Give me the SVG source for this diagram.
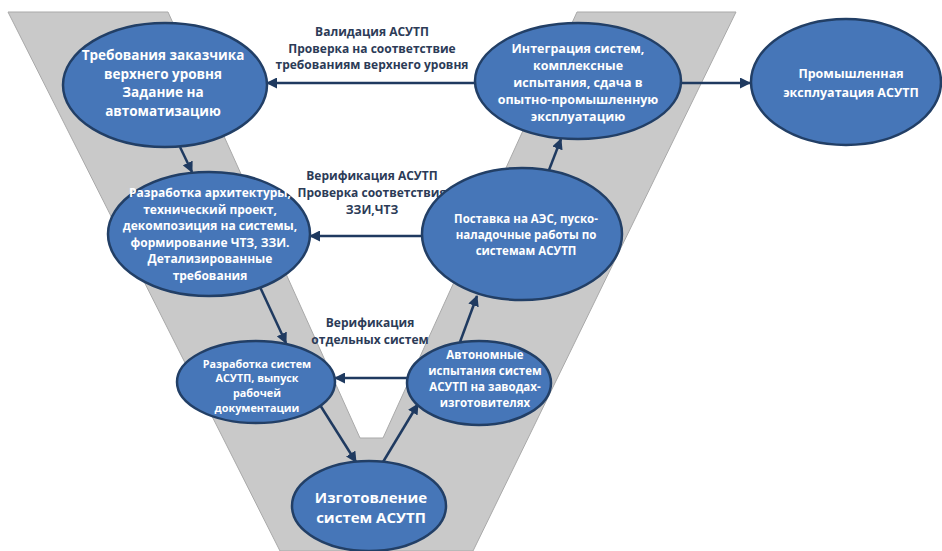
<svg xmlns="http://www.w3.org/2000/svg" width="942" height="551" viewBox="0 0 942 551">
<defs>
<style>
.node ellipse{fill:#4676B8;stroke:#223F66;stroke-width:2.5}
.nt{font-family:"Open Sans","Liberation Sans",sans-serif;font-weight:700;fill:#FFFFFF;text-anchor:middle}
.lb{font-family:"Open Sans","Liberation Sans",sans-serif;font-weight:700;fill:#2C3B57;text-anchor:middle;font-size:12px}
.conn line{stroke:#1F3A60;stroke-width:2.5;marker-end:url(#ah)}
</style>
<marker id="ah" markerUnits="userSpaceOnUse" markerWidth="11" markerHeight="11" refX="10" refY="5.5" orient="auto">
<path d="M0,0 L11,5.5 L0,11 Z" fill="#1F3A60"/>
</marker>
</defs>
<rect width="942" height="551" fill="#FFFFFF"/>
<polygon id="v-shape" points="8,12 168,12 360,438 383,438 577,12 736,12 473,551 280,551" fill="#C9C9C9" stroke="#A9A9A9" stroke-width="1"/>

<g id="labels">
<text class="lb" x="372" y="36">Валидация АСУТП</text>
<text class="lb" x="372" y="52.5">Проверка на соответствие</text>
<text class="lb" x="372" y="69">требованиям верхнего уровня</text>
<text class="lb" x="372" y="180">Верификация АСУТП</text>
<text class="lb" x="372" y="197">Проверка соответствия</text>
<text class="lb" x="372" y="214">ЗЗИ,ЧТЗ</text>
<text class="lb" x="370" y="327">Верификация</text>
<text class="lb" x="370" y="344">отдельных систем</text>
</g>

<g id="connectors" class="conn">
<line x1="475" y1="83" x2="267" y2="83"/>
<line x1="682" y1="83" x2="750" y2="83"/>
<line x1="180" y1="147" x2="192" y2="172"/>
<line x1="422" y1="236" x2="310" y2="236"/>
<line x1="260" y1="287" x2="286" y2="343"/>
<line x1="407" y1="378" x2="335" y2="378"/>
<line x1="320" y1="405" x2="356" y2="462"/>
<line x1="383" y1="462" x2="418" y2="404"/>
<line x1="460" y1="342" x2="477" y2="296"/>
<line x1="549" y1="170" x2="561" y2="139"/>
</g>

<g id="n1" class="node">
<ellipse cx="165" cy="85" rx="102" ry="62"/>
<text class="nt" font-size="13.5" x="163" y="60">Требования заказчика</text>
<text class="nt" font-size="13.5" x="163" y="78.5">верхнего уровня</text>
<text class="nt" font-size="13.5" x="163" y="97">Задание на</text>
<text class="nt" font-size="13.5" x="163" y="115.5">автоматизацию</text>
</g>

<g id="n2" class="node">
<ellipse cx="578" cy="81" rx="103" ry="58"/>
<text class="nt" font-size="12.5" x="578" y="53">Интеграция систем,</text>
<text class="nt" font-size="12.5" x="578" y="70">комплексные</text>
<text class="nt" font-size="12.5" x="578" y="87">испытания, сдача в</text>
<text class="nt" font-size="12.5" x="578" y="104">опытно-промышленную</text>
<text class="nt" font-size="12.5" x="578" y="121">эксплуатацию</text>
</g>

<g id="n3" class="node">
<ellipse cx="846" cy="82" rx="95" ry="63"/>
<text class="nt" font-size="12.5" x="851" y="78">Промышленная</text>
<text class="nt" font-size="12.5" x="851" y="97">эксплуатация АСУТП</text>
</g>

<g id="n4" class="node">
<ellipse cx="209" cy="234" rx="101" ry="62"/>
<text class="nt" font-size="12" x="210" y="197">Разработка архитектуры,</text>
<text class="nt" font-size="12" x="210" y="213.5">технический проект,</text>
<text class="nt" font-size="12" x="210" y="230">декомпозиция на системы,</text>
<text class="nt" font-size="12" x="210" y="246.5">формирование ЧТЗ, ЗЗИ.</text>
<text class="nt" font-size="12" x="210" y="263">Детализированные</text>
<text class="nt" font-size="12" x="210" y="279.5">требования</text>
</g>

<g id="n5" class="node">
<ellipse cx="522" cy="234" rx="100" ry="66"/>
<text class="nt" font-size="11.5" x="526" y="223">Поставка на АЭС, пуско-</text>
<text class="nt" font-size="11.5" x="526" y="238.8">наладочные работы по</text>
<text class="nt" font-size="11.5" x="526" y="254.6">системам АСУТП</text>
</g>

<g id="n6" class="node">
<ellipse cx="256" cy="382" rx="79" ry="41"/>
<text class="nt" font-size="10.8" x="257" y="367.5">Разработка систем</text>
<text class="nt" font-size="10.8" x="257" y="382.3">АСУТП, выпуск</text>
<text class="nt" font-size="10.8" x="257" y="397.1">рабочей</text>
<text class="nt" font-size="10.8" x="257" y="411.9">документации</text>
</g>

<g id="n7" class="node">
<ellipse cx="479" cy="383" rx="72" ry="42"/>
<text class="nt" font-size="11.5" x="485" y="359">Автономные</text>
<text class="nt" font-size="11.5" x="485" y="375">испытания систем</text>
<text class="nt" font-size="11.5" x="485" y="391">АСУТП на заводах-</text>
<text class="nt" font-size="11.5" x="485" y="407">изготовителях</text>
</g>

<g id="n8" class="node">
<ellipse cx="369" cy="506" rx="77" ry="45"/>
<text class="nt" font-size="15" x="371" y="503">Изготовление</text>
<text class="nt" font-size="15" x="371" y="523">систем АСУТП</text>
</g>
</svg>
